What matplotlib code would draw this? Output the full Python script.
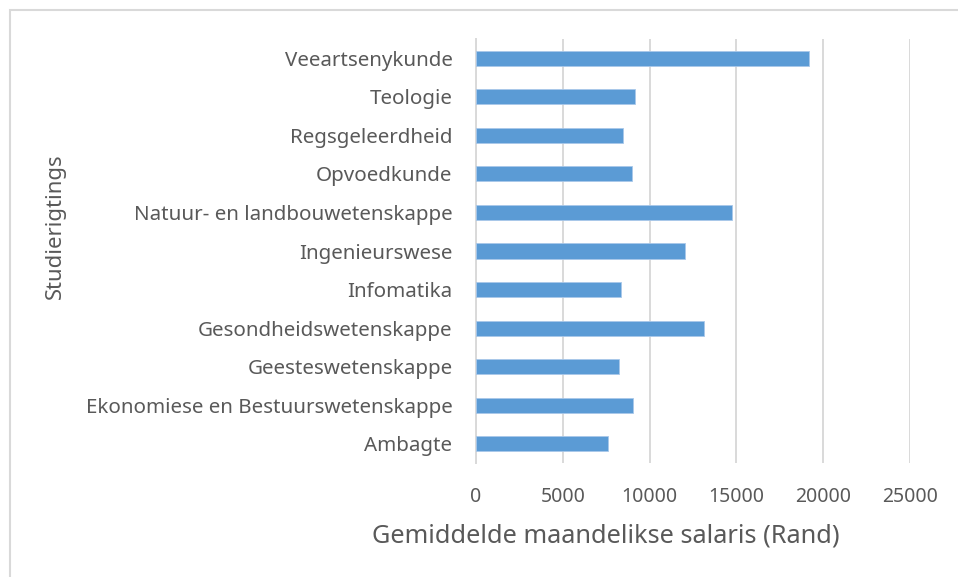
import matplotlib.pyplot as plt
from matplotlib.patches import Rectangle

categories = [
    "Ambagte",
    "Ekonomiese en Bestuurswetenskappe",
    "Geesteswetenskappe",
    "Gesondheidswetenskappe",
    "Infomatika",
    "Ingenieurswese",
    "Natuur- en landbouwetenskappe",
    "Opvoedkunde",
    "Regsgeleerdheid",
    "Teologie",
    "Veeartsenykunde",
]
salaries = [7590, 9060, 8220, 13150, 8350, 12060, 14760, 8990, 8450, 9180, 19180]
xticks = [0, 5000, 10000, 15000, 20000, 25000]

plt.rcParams["font.family"] = ["Noto Sans", "DejaVu Sans"]
grey = "#595959"
W, H = 958, 577

fig = plt.figure(figsize=(W / 100, H / 100), dpi=100)
ax = fig.add_axes([476 / W, 1 - 463 / H, 434 / W, 424 / H])

ax.barh(range(len(categories)), salaries, height=0.39, color="#5B9BD5",
        edgecolor="#A9C8EA", linewidth=0.6, zorder=3)

ax.set_xlim(0, 25000)
ax.set_ylim(-0.5, len(categories) - 0.5)
ax.set_xticks(xticks)
ax.set_xticklabels([str(t) for t in xticks])
ax.set_yticks(range(len(categories)))
ax.set_yticklabels(categories)
ax.tick_params(axis="y", length=0, colors=grey, labelsize=14.8, pad=17)
ax.tick_params(axis="x", length=0, colors=grey, labelsize=14, pad=17)

ax.grid(axis="x", color="#D9D9D9", linewidth=1.4, zorder=0)
for s in ["top", "right", "bottom"]:
    ax.spines[s].set_visible(False)
ax.spines["left"].set_color("#D9D9D9")
ax.spines["left"].set_linewidth(1.4)

fig.text(606 / W, 1 - 536 / H, "Gemiddelde maandelikse salaris (Rand)",
         fontsize=18.2, color=grey, ha="center", va="center")
fig.text(55 / W, 1 - 226 / H, "Studierigtings", fontsize=15.9, color=grey,
         rotation=90, ha="center", va="center")

fig.patches.append(Rectangle((10 / W, -0.1), 1.2, 1 - 10 / H + 0.1,
                             transform=fig.transFigure, fill=False,
                             edgecolor="#D9D9D9", linewidth=1.5))

fig.savefig("out.png", dpi=100)
